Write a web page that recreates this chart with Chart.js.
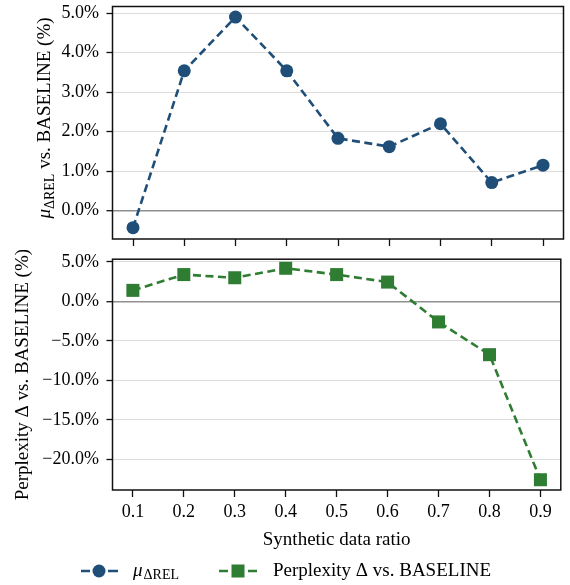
<!DOCTYPE html>
<html>
<head>
<meta charset="utf-8">
<script src="https://cdn.jsdelivr.net/npm/chart.js@4.4.0/dist/chart.umd.min.js"></script>
<style>
body { margin: 0; background: #fff; }
canvas { display: block; }
</style>
</head>
<body>
<canvas id="topChart" width="570" height="250"></canvas>
<canvas id="bottomChart" width="570" height="335"></canvas>
<script>
// values (percent)
var ratios = [0.1, 0.2, 0.3, 0.4, 0.5, 0.6, 0.7, 0.8, 0.9];
var relDelta = [-0.43, 3.54, 4.9, 3.54, 1.83, 1.62, 2.2, 0.71, 1.15];
var pplDelta = [1.4, 3.4, 3.0, 4.2, 3.4, 2.45, -2.6, -6.75, -22.6];
var topTicks = [0, 1, 2, 3, 4, 5];
var bottomTicks = [-20, -15, -10, -5, 0, 5];

var BLUE = '#1f4e79';
var GREEN = '#2e7d32';
var SERIF = 'Liberation Serif';

Chart.defaults.font.family = SERIF;
Chart.defaults.color = '#000';

function points(ys) {
    return ratios.map(function (x, i) { return {x: x, y: ys[i]} });
}

function pct(v) {
    return (v < 0 ? '\u2212' : '') + Math.abs(v).toFixed(1) + '%';
}

// box around the plot area
var frame = {
    id: 'frame',
    beforeDatasetsDraw(chart) {
        var a = chart.chartArea, c = chart.ctx;
        c.save();
        c.strokeStyle = '#111';
        c.lineWidth = 1.5;
        c.strokeRect(a.left, a.top, a.right - a.left, a.bottom - a.top);
        c.restore();
    }
};

// rotated y title, pieces so the subscript works
var yTitle = {
    id: 'yTitle',
    afterDraw(chart, args, opts) {
        var c = chart.ctx, a = chart.chartArea;
        c.save();
        c.translate(opts.x, opts.cy != null ? opts.cy : (a.top + a.bottom) / 2);
        c.rotate(-Math.PI / 2);
        c.fillStyle = '#000';
        c.textBaseline = 'alphabetic';
        var total = 0;
        opts.parts.forEach(function (p) { c.font = p.font; total += c.measureText(p.text).width });
        var pos = -total / 2;
        opts.parts.forEach(function (p) {
            c.font = p.font;
            c.fillText(p.text, pos, p.dy || 0);
            pos += c.measureText(p.text).width;
        });
        c.restore();
    }
};

// legend under the lower plot
var bottomLegend = {
    id: 'bottomLegend',
    afterDraw(chart) {
        var c = chart.ctx, y = 321;
        c.save();
        c.lineWidth = 2.6;
        // blue item
        c.strokeStyle = BLUE;
        c.beginPath();
        c.moveTo(81, y); c.lineTo(90, y);
        c.moveTo(108, y); c.lineTo(118, y);
        c.stroke();
        c.fillStyle = BLUE;
        c.beginPath();
        c.arc(99, y, 6.5, 0, Math.PI * 2);
        c.fill();
        // green item
        c.strokeStyle = GREEN;
        c.beginPath();
        c.moveTo(219, y); c.lineTo(228, y);
        c.moveTo(248, y); c.lineTo(257, y);
        c.stroke();
        c.fillStyle = GREEN;
        c.fillRect(231.5, y - 6.5, 13, 13);
        // labels
        c.fillStyle = '#000';
        c.textBaseline = 'middle';
        c.font = 'italic 19px ' + SERIF;
        c.fillText('\u03bc', 133, y);
        var w = c.measureText('\u03bc').width;
        c.font = '14px ' + SERIF;
        c.fillText('\u0394REL', 133 + w + 1, y + 4);
        c.font = '19px ' + SERIF;
        c.fillText('Perplexity \u0394 vs. BASELINE', 273, y);
        c.restore();
    }
};

function noPad(scale) {
    scale.paddingTop = 0;
    scale.paddingBottom = 0;
    scale.paddingLeft = 0;
    scale.paddingRight = 0;
}

function yScale(min, max, ticks) {
    return {
        type: 'linear',
        min: min,
        max: max,
        afterBuildTicks: function (s) { s.ticks = ticks.map(function (v) { return {value: v} }) },
        afterFit: function (s) { s.width = 112.5; noPad(s) },
        border: {display: false},
        grid: {
            color: function (ctx) { return ctx.tick && ctx.tick.value === 0 ? '#8f8f8f' : '#dcdcdc' },
            lineWidth: function (ctx) { return ctx.tick && ctx.tick.value === 0 ? 1.4 : 1 },
            tickColor: '#111',
            tickWidth: 1.3,
            tickLength: 6
        },
        ticks: {
            padding: 7.5,
            font: {size: 18},
            callback: function (v) { return pct(v) }
        }
    };
}

function xScale(showLabels, height) {
    var s = {
        type: 'linear',
        min: 0.06,
        max: 0.94,
        afterBuildTicks: function (s) { s.ticks = ratios.map(function (v) { return {value: v} }) },
        afterFit: function (s) { s.height = height; noPad(s) },
        border: {display: false},
        grid: {
            drawOnChartArea: false,
            tickColor: '#111',
            tickWidth: 1.3,
            tickLength: 7
        },
        ticks: {
            maxRotation: 0,
            padding: 4,
            font: {size: 18},
            callback: function (v) { return showLabels ? v.toFixed(1) : '' }
        }
    };
    if (showLabels) {
        s.title = {display: true, text: 'Synthetic data ratio', font: {size: 19}, padding: 0};
    }
    return s;
}

function lineSet(label, ys, color, style, radius) {
    return {
        label: label,
        data: points(ys),
        borderColor: color,
        backgroundColor: color,
        borderWidth: 2.6,
        borderDash: [8, 4.5],
        pointStyle: style,
        pointRadius: radius,
        pointBorderWidth: 0,
        pointHoverRadius: radius,
        tension: 0,
        fill: false,
        clip: false
    };
}

var topChart = new Chart(document.getElementById('topChart'), {
    type: 'line',
    data: {datasets: [lineSet('\u03bc\u0394REL', relDelta, BLUE, 'circle', 6.5)]},
    options: {
        responsive: false,
        animation: false,
        layout: {padding: {top: 5, right: 5.5, left: 0, bottom: 0}},
        scales: {
            x: xScale(false, 11),
            y: yScale(-0.7175, 5.1675, topTicks)
        },
        plugins: {
            legend: {display: false},
            tooltip: {enabled: false},
            yTitle: {
                x: 50, cy: 118,
                parts: [
                    {text: '\u03bc', font: 'italic 19px ' + SERIF},
                    {text: '\u0394REL', font: '14px ' + SERIF, dy: 4},
                    {text: ' vs. BASELINE (%)', font: '19px ' + SERIF}
                ]
            }
        }
    },
    plugins: [frame, yTitle]
});

var bottomChart = new Chart(document.getElementById('bottomChart'), {
    type: 'line',
    data: {datasets: [lineSet('Perplexity \u0394 vs. BASELINE', pplDelta, GREEN, 'rect', 9.2)]},
    options: {
        responsive: false,
        animation: false,
        layout: {padding: {top: 9, right: 5.5, left: 0, bottom: 34}},
        scales: {
            x: xScale(true, 61),
            y: yScale(-23.9, 5.35, bottomTicks)
        },
        plugins: {
            legend: {display: false},
            tooltip: {enabled: false},
            yTitle: {
                x: 28,
                parts: [{text: 'Perplexity \u0394 vs. BASELINE (%)', font: '19px ' + SERIF}]
            }
        }
    },
    plugins: [frame, yTitle, bottomLegend]
});
</script>
</body>
</html>
